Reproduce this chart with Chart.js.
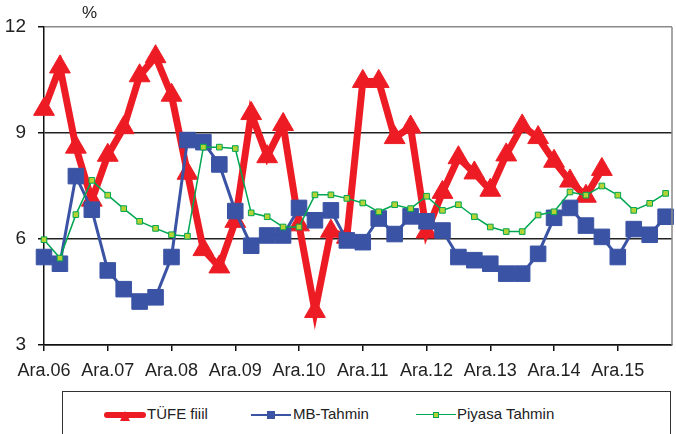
<!DOCTYPE html>
<html lang="tr">
<head>
    <meta charset="UTF-8">
    <script src="https://cdn.jsdelivr.net/npm/chart.js"></script>
    <style>
        body {
            margin: 0;
            background: #ffffff;
            font-family: "Liberation Sans", Arial, sans-serif;
            overflow: hidden;
        }
        .wrap {
            position: relative;
            width: 676px;
            height: 434px;
        }
        .unit {
            position: absolute;
            left: 82px;
            top: 3px;
            font-size: 17px;
            color: #222;
        }
        .legend-box {
            position: absolute;
            left: 62px;
            top: 391px;
            width: 609px;
            height: 60px;
            border: 1px solid #333;
            box-sizing: border-box;
        }
        .legend-line {
            position: absolute;
        }
        .legend-mark {
            position: absolute;
        }
        .legend-text {
            position: absolute;
            top: 13px;
            font-size: 15px;
            color: #222;
            white-space: nowrap;
        }
    </style>
</head>
<body>
    <div class="wrap">
        <canvas id="cpiChart" width="676" height="390"></canvas>
        <div class="unit">%</div>
        <div class="legend-box">
            <div class="legend-line" style="left:41px; top:20px; width:42px; height:6px; background:#ed1c24; border-radius:3px;"></div>
            <div class="legend-mark" style="left:57px; top:19px; width:0; height:0; border-left:5px solid transparent; border-right:5px solid transparent; border-bottom:10px solid #ed1c24;"></div>
            <div class="legend-text" style="left:84px;">TÜFE fiiil</div>

            <div class="legend-line" style="left:188px; top:22px; width:40px; height:2px; background:#3a53a4;"></div>
            <div class="legend-mark" style="left:204px; top:19px; width:8px; height:8px; background:#3a53a4;"></div>
            <div class="legend-text" style="left:230px;">MB-Tahmin</div>

            <div class="legend-line" style="left:353px; top:22px; width:40px; height:1px; background:#00a651;"></div>
            <div class="legend-mark" style="left:370px; top:20px; width:4px; height:4px; background:#b5d334; border:1px solid #00a651;"></div>
            <div class="legend-text" style="left:394px;">Piyasa Tahmin</div>
        </div>
    </div>

    <script>
        // quarterly observations, first point = Ara.06
        const yearLabels = ['Ara.06', 'Ara.07', 'Ara.08', 'Ara.09', 'Ara.10', 'Ara.11', 'Ara.12', 'Ara.13', 'Ara.14', 'Ara.15'];
        const yTicks = [3, 6, 9, 12];

        const tufeFiili = [9.67, 10.87, 8.60, 7.10, 8.37, 9.15, 10.62, 11.16, 10.07, 7.86,
                           5.70, 5.21, 6.50, 9.55, 8.33, 9.24, 6.40, 3.95, 6.22, 6.05,
                           10.46, 10.46, 8.87, 9.17, 6.20, 7.32, 8.30, 7.87, 7.38, 8.38,
                           9.20, 8.87, 8.20, 7.64, 7.21, 7.97];
        const mbTahmin = [5.49, 5.30, 7.78, 6.83, 5.11, 4.58, 4.23, 4.35, 5.49, 8.80,
                          8.74, 8.11, 6.79, 5.81, 6.10, 6.10, 6.88, 6.53, 6.81, 5.96,
                          5.91, 6.58, 6.14, 6.64, 6.50, 6.24, 5.49, 5.40, 5.30, 5.02,
                          5.02, 5.58, 6.60, 6.88, 6.38, 6.06, 5.49, 6.28, 6.12, 6.63];
        const piyasaTahmin = [5.98, 5.46, 6.69, 7.66, 7.24, 6.86, 6.50, 6.30, 6.12, 6.08,
                              8.60, 8.60, 8.56, 6.74, 6.63, 6.34, 6.34, 7.25, 7.25, 7.15,
                              7.02, 6.77, 6.97, 6.86, 7.21, 6.81, 6.97, 6.63, 6.34, 6.21,
                              6.21, 6.68, 6.77, 7.33, 7.24, 7.50, 7.24, 6.81, 7.01, 7.29];

        const toPoints = arr => arr.map((v, i) => ({ x: i, y: v }));

        // gray frame on the right of the plot area
        const frame = {
            id: 'frame',
            afterDraw(chart) {
                const a = chart.chartArea;
                const ctx = chart.ctx;
                ctx.save();
                ctx.strokeStyle = '#8a8a8a';
                ctx.lineWidth = 1.5;
                ctx.beginPath();
                ctx.moveTo(a.right, a.top);
                ctx.lineTo(a.right, a.bottom);
                ctx.stroke();
                ctx.restore();
            }
        };

        const ctx = document.getElementById('cpiChart').getContext('2d');
        new Chart(ctx, {
            type: 'line',
            data: {
                datasets: [
                    {
                        label: 'TÜFE fiiil',
                        data: toPoints(tufeFiili),
                        borderColor: '#ed1c24',
                        backgroundColor: '#ed1c24',
                        borderWidth: 7,
                        pointStyle: 'triangle',
                        pointRadius: 12,
                        pointBorderWidth: 1,
                        tension: 0,
                        clip: false,
                        order: 3
                    },
                    {
                        label: 'MB-Tahmin',
                        data: toPoints(mbTahmin),
                        borderColor: '#3a53a4',
                        backgroundColor: '#3a53a4',
                        borderWidth: 3,
                        pointStyle: 'rect',
                        pointRadius: 11,
                        pointBorderWidth: 1,
                        tension: 0,
                        clip: false,
                        order: 2
                    },
                    {
                        label: 'Piyasa Tahmin',
                        data: toPoints(piyasaTahmin),
                        borderColor: '#00a651',
                        backgroundColor: '#b5d334',
                        pointBorderColor: '#00a651',
                        borderWidth: 1.5,
                        pointStyle: 'rect',
                        pointRadius: 4,
                        pointBorderWidth: 1,
                        tension: 0,
                        clip: false,
                        order: 1
                    }
                ]
            },
            options: {
                responsive: false,
                animation: false,
                events: [],
                layout: {
                    autoPadding: false,
                    padding: { top: 27, right: 4, left: 0, bottom: 0 }
                },
                scales: {
                    x: {
                        type: 'linear',
                        min: 0,
                        max: 39.4,
                        afterFit: s => {
                            s.height = 45;
                            s.paddingLeft = 0;
                            s.paddingRight = 0;
                        },
                        afterBuildTicks: s => {
                            s.ticks = yearLabels.map((_, k) => ({ value: k * 4 }));
                        },
                        grid: {
                            drawOnChartArea: false,
                            drawTicks: true,
                            tickLength: 6,
                            color: '#111',
                            lineWidth: 1.5
                        },
                        border: { color: '#111', width: 1.5 },
                        ticks: {
                            autoSkip: false,
                            maxRotation: 0,
                            padding: 9,
                            color: '#222',
                            font: { size: 18, family: '"Liberation Sans", Arial, sans-serif' },
                            callback: value => yearLabels[value / 4]
                        }
                    },
                    y: {
                        min: 3,
                        max: 12,
                        afterFit: s => {
                            s.width = 44;
                            s.paddingTop = 0;
                            s.paddingBottom = 0;
                        },
                        afterBuildTicks: s => {
                            s.ticks = yTicks.map(v => ({ value: v }));
                        },
                        grid: {
                            drawTicks: true,
                            tickLength: 6,
                            color: c => c.tick && c.tick.value === 12 ? '#8a8a8a' : '#222',
                            tickColor: '#111',
                            lineWidth: 1.5
                        },
                        border: { color: '#111', width: 1.5 },
                        ticks: {
                            padding: 12,
                            color: '#222',
                            font: { size: 19, family: '"Liberation Sans", Arial, sans-serif' }
                        }
                    }
                },
                plugins: {
                    legend: { display: false },
                    tooltip: { enabled: false }
                }
            },
            plugins: [frame]
        });
    </script>
</body>
</html>
